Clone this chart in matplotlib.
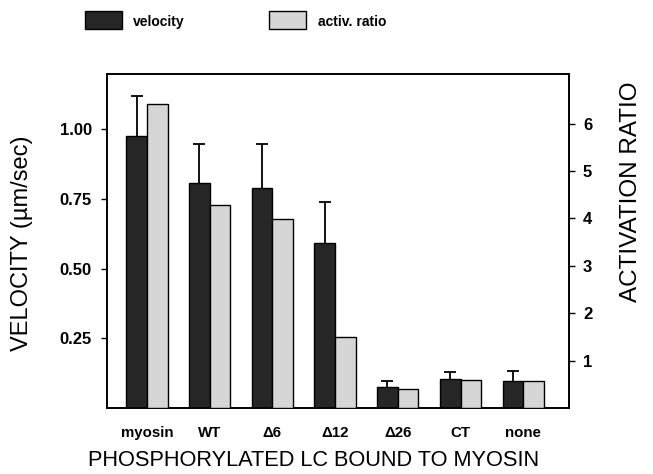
import matplotlib
matplotlib.use("Agg")
import matplotlib.pyplot as plt
import numpy as np
from matplotlib.patches import Rectangle

plt.rcParams['font.family'] = ['Liberation Sans', 'DejaVu Sans']

categories = ["myosin", "WT", "Δ6", "Δ12", "Δ26", "CT", "none"]
velocity = [0.975, 0.808, 0.789, 0.591, 0.076, 0.104, 0.098]
velocity_err = [0.143, 0.138, 0.157, 0.147, 0.021, 0.025, 0.036]
activ_ratio = [6.41, 4.28, 3.99, 1.49, 0.40, 0.59, 0.56]
left_ticks = [0.25, 0.50, 0.75, 1.00]
left_ticklabels = ["0.25", "0.50", "0.75", "1.00"]
right_ticks = [1, 2, 3, 4, 5, 6]

fig = plt.figure(figsize=(6.53, 4.74), dpi=100)
ax = fig.add_axes([107/653, 66/474, 462/653, 334/474])
ax2 = ax.twinx()

x = np.arange(len(categories))
w = 0.33
dark = '#262626'
light = '#d6d6d6'

ax.errorbar(x - w/2, velocity, yerr=velocity_err,
            fmt='none', ecolor='black', elinewidth=1.3, capsize=4, capthick=1.3, zorder=2)
ax.bar(x - w/2, velocity, w, color=dark, edgecolor='black', linewidth=1.0, zorder=3)
ax2.bar(x + w/2, activ_ratio, w, color=light, edgecolor='black', linewidth=1.0, zorder=3)

ax.set_xlim(-0.637, 6.73)
ax.set_ylim(0, 1.198)
ax2.set_ylim(0, 7.05)

ax.set_xticks(x)
ax.set_xticklabels(categories, fontsize=10.8, fontweight='bold')
ax.tick_params(axis='x', length=0, pad=13)
ax.set_yticks(left_ticks)
ax.set_yticklabels(left_ticklabels, fontsize=12, fontweight='bold')
ax.tick_params(axis='y', length=4, width=1, direction='out', pad=7)
ax2.set_yticks(right_ticks)
ax2.set_yticklabels([str(t) for t in right_ticks], fontsize=12, fontweight='bold')
ax2.tick_params(axis='y', length=4, width=1, direction='out', pad=6)

for a in (ax, ax2):
    for s in a.spines.values():
        s.set_linewidth(1.2)

fig.text(22/653, 1 - 243/474, "VELOCITY (µm/sec)", rotation=90, ha='center', va='center', fontsize=17)
fig.text(631/653, 1 - 192/474, "ACTIVATION RATIO", rotation=90, ha='center', va='center', fontsize=17.5)
fig.text(314/653, 1 - 460/474, "PHOSPHORYLATED LC BOUND TO MYOSIN", ha='center', va='center', fontsize=15.7)

# legend
fig.add_artist(Rectangle((85/653, 1 - 29/474), 37/653, 18/474, transform=fig.transFigure,
                         facecolor=dark, edgecolor='black', linewidth=1.0))
fig.text(133/653, 1 - 22/474, "velocity", ha='left', va='center', fontsize=10, fontweight='bold')
fig.add_artist(Rectangle((269/653, 1 - 29/474), 37/653, 18/474, transform=fig.transFigure,
                         facecolor=light, edgecolor='black', linewidth=1.0))
fig.text(318/653, 1 - 22/474, "activ. ratio", ha='left', va='center', fontsize=10, fontweight='bold')

fig.savefig("out.png", dpi=100)
